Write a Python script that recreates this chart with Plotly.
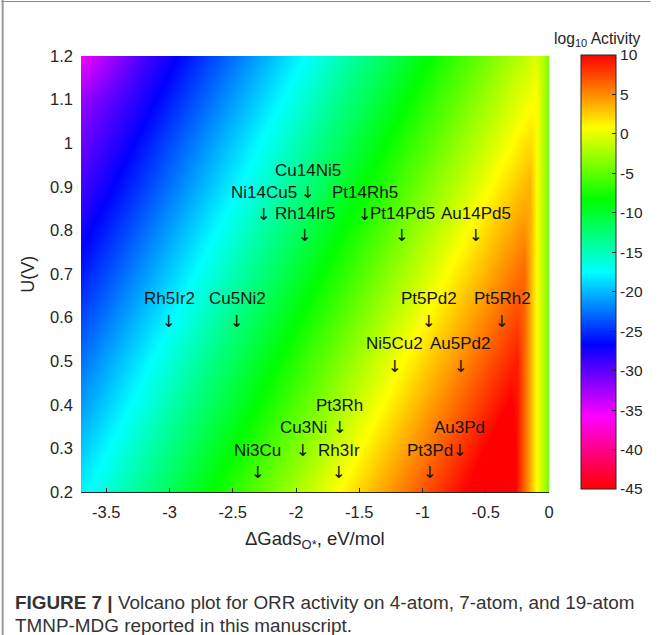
import plotly.graph_objects as go

# ---------------- data ----------------
# grid of DeltaG_ads(O*) values (eV/mol)
dg_grid = [-3.7, -3.2, -2.7, -2.2, -1.7, -1.2, -0.8, -0.5, -0.4, -0.3, -0.25, -0.2, -0.15, -0.1, -0.05, 0.0]
# grid of potentials U (V)
u_grid = [0.2, 0.3, 0.4, 0.5, 0.6, 0.7, 0.8, 0.9, 1.0, 1.1, 1.2]
# log10 activity (rows follow u_grid, columns follow dg_grid)
log_activity = [
    [-17.9, -13.3, -8.7, -4.1, 0.5, 5.1, 8.8, 11.5, 12.5, 12.0, 9.3, 6.5, 3.8, 1.0, -1.8, -4.5],
    [-19.5, -14.9, -10.3, -5.7, -1.1, 3.5, 7.2, 10.0, 10.9, 11.8, 9.3, 6.5, 3.8, 1.0, -1.8, -4.5],
    [-21.1, -16.5, -11.9, -7.3, -2.7, 1.9, 5.6, 8.4, 9.3, 10.2, 9.3, 6.5, 3.8, 1.0, -1.8, -4.5],
    [-22.6, -18.0, -13.4, -8.8, -4.2, 0.4, 4.0, 6.8, 7.7, 8.6, 9.1, 6.5, 3.8, 1.0, -1.8, -4.5],
    [-24.2, -19.6, -15.0, -10.4, -5.8, -1.2, 2.5, 5.2, 6.1, 7.1, 7.5, 6.5, 3.8, 1.0, -1.8, -4.5],
    [-25.8, -21.2, -16.6, -12.0, -7.4, -2.8, 0.9, 3.6, 4.6, 5.5, 5.9, 6.4, 3.8, 1.0, -1.8, -4.5],
    [-27.4, -22.8, -18.2, -13.6, -9.0, -4.4, -0.7, 2.1, 3.0, 3.9, 4.4, 4.8, 3.8, 1.0, -1.8, -4.5],
    [-29.0, -24.4, -19.8, -15.2, -10.6, -6.0, -2.3, 0.5, 1.4, 2.3, 2.8, 3.2, 3.7, 1.0, -1.8, -4.5],
    [-30.5, -25.9, -21.3, -16.7, -12.1, -7.5, -3.9, -1.1, -0.2, 0.7, 1.2, 1.7, 2.1, 1.0, -1.8, -4.5],
    [-32.1, -27.5, -22.9, -18.3, -13.7, -9.1, -5.4, -2.7, -1.8, -0.8, -0.4, 0.1, 0.5, 1.0, -1.8, -4.5],
    [-35.5, -29.1, -24.5, -19.9, -15.3, -10.7, -7.0, -4.3, -3.3, -2.4, -2.0, -1.5, -1.0, -0.6, -1.8, -4.5],
]

# materials (label position: DeltaG, U)
mat_names = ["Cu14Ni5", "Ni14Cu5", "Pt14Rh5", "Rh14Ir5", "Pt14Pd5", "Au14Pd5",
             "Rh5Ir2", "Cu5Ni2", "Pt5Pd2", "Pt5Rh2", "Ni5Cu2", "Au5Pd2",
             "Pt3Rh", "Cu3Ni", "Au3Pd", "Ni3Cu", "Rh3Ir", "Pt3Pd"]
mat_dg = [-1.906, -2.25, -1.457, -1.927, -1.161, -0.575,
          -3.003, -2.465, -0.952, -0.368, -1.220, -0.696,
          -1.653, -1.941, -0.704, -2.304, -1.659, -0.941]
mat_u = [0.912, 0.862, 0.862, 0.814, 0.814, 0.814,
         0.617, 0.617, 0.617, 0.617, 0.514, 0.514,
         0.373, 0.322, 0.322, 0.270, 0.270, 0.270]

x_ticks = [-3.5, -3.0, -2.5, -2.0, -1.5, -1.0, -0.5, 0.0]
x_ticktext = ["-3.5", "-3", "-2.5", "-2", "-1.5", "-1", "-0.5", "0"]
y_ticks = [0.2, 0.3, 0.4, 0.5, 0.6, 0.7, 0.8, 0.9, 1.0, 1.1, 1.2]
y_ticktext = ["0.2", "0.3", "0.4", "0.5", "0.6", "0.7", "0.8", "0.9", "1", "1.1", "1.2"]
cb_ticks = [10, 5, 0, -5, -10, -15, -20, -25, -30, -35, -40, -45]

# ---------------- layout constants ----------------
W, H = 659, 635
L, R, T, B = 81, 556, 56, 492
PW, PH = R - L, B - T
FONT = "Liberation Sans, Arial, Helvetica, sans-serif"
TXT = "#262626"


def px(xp):
    return (xp - L) / PW


def py(yp):
    return (B - yp) / PH


hsv_rev = [
    [0.0, "#ff0000"],
    [1 / 6, "#ff00ff"],
    [2 / 6, "#0000ff"],
    [3 / 6, "#00ffff"],
    [4 / 6, "#00ff00"],
    [5 / 6, "#ffff00"],
    [1.0, "#ff0000"],
]

fig = go.Figure()
fig.add_trace(go.Heatmap(
    x=dg_grid, y=u_grid, z=log_activity,
    zsmooth="best", zmin=-45, zmax=10,
    colorscale=hsv_rev,
    hoverinfo="skip",
    colorbar=dict(
        x=px(588), xanchor="left", y=py(272), yanchor="middle",
        len=434, lenmode="pixels", thickness=35, thicknessmode="pixels",
        ypad=0, xpad=0,
        outlinewidth=1, outlinecolor=TXT,
        tickvals=cb_ticks, ticktext=[str(v) for v in cb_ticks],
        ticks="inside", ticklen=4, tickcolor=TXT,
        tickfont=dict(family=FONT, size=15.5, color=TXT),
    ),
))

annotations = []
for name, xv, uv in zip(mat_names, mat_dg, mat_u):
    annotations.append(dict(x=xv, y=uv, xref="x", yref="y", text=name, showarrow=False,
                            yshift=11.2, font=dict(family=FONT, size=17, color="#141414")))
    annotations.append(dict(x=xv, y=uv, xref="x", yref="y", text="↓", showarrow=False,
                            yshift=-11.2, font=dict(family="DejaVu Sans, sans-serif", size=16.5, color="#141414")))

# colorbar title
annotations.append(dict(x=px(605), y=py(39), xref="paper", yref="paper",
                        xanchor="center", yanchor="middle",
                        text="log<sub>10</sub> Activity", showarrow=False,
                        font=dict(family=FONT, size=15.7, color=TXT)))
# y axis title
annotations.append(dict(x=px(27), y=py(274), xref="paper", yref="paper",
                        xanchor="center", yanchor="middle", textangle=-90,
                        text="U(V)", showarrow=False,
                        font=dict(family=FONT, size=18, color=TXT)))
# x axis title
annotations.append(dict(x=px(319), y=py(540), xref="paper", yref="paper",
                        xanchor="center", yanchor="middle",
                        text="ΔGads<sub>O*</sub>, eV/mol", showarrow=False,
                        font=dict(family=FONT, size=18.5, color=TXT)))
# caption
CAP_FONT = "Liberation Sans Narrow, Arial Narrow, Liberation Sans, sans-serif"
annotations.append(dict(x=px(12), y=py(603), xref="paper", yref="paper", xanchor="left", yanchor="middle",
                        text="<b>FIGURE 7 |</b> Volcano plot for ORR activity on 4-atom, 7-atom, and 19-atom",
                        showarrow=False, font=dict(family=CAP_FONT, size=18.9, color="#333333")))
annotations.append(dict(x=px(12), y=py(625), xref="paper", yref="paper", xanchor="left", yanchor="middle",
                        text="TMNP-MDG reported in this manuscript.",
                        showarrow=False, font=dict(family=CAP_FONT, size=18.9, color="#333333")))

shapes = [
    # top border line
    dict(type="line", xref="paper", yref="paper", x0=px(0), x1=px(659), y0=py(1.5), y1=py(1.5),
         line=dict(color="#8a8a8a", width=1)),
    # left border line
    dict(type="line", xref="paper", yref="paper", x0=px(1.5), x1=px(1.5), y0=py(0), y1=py(635),
         line=dict(color="#9a9a9a", width=2)),
]

fig.update_layout(
    width=W, height=H,
    margin=dict(l=L, r=W - R, t=T, b=H - B, pad=0),
    paper_bgcolor="white", plot_bgcolor="white",
    showlegend=False,
    font=dict(family=FONT, size=14, color=TXT),
    annotations=annotations,
    shapes=shapes,
    xaxis=dict(
        range=[-3.7, 0], tickvals=x_ticks, ticktext=x_ticktext,
        ticks="inside", ticklen=4, tickcolor=TXT,
        showline=True, linecolor=TXT, linewidth=1, mirror=False,
        showgrid=False, zeroline=False,
        ticklabelstandoff=5,
        tickfont=dict(family=FONT, size=16.5, color=TXT),
    ),
    yaxis=dict(
        range=[0.2, 1.2], tickvals=y_ticks, ticktext=y_ticktext,
        ticks="", showline=False, showgrid=False, zeroline=False,
        ticklabelstandoff=7,
        tickfont=dict(family=FONT, size=16.5, color=TXT),
    ),
)

fig.write_html("out.html", config={"displayModeBar": False},
               post_script="document.body.style.margin='0';document.body.style.padding='0';")
